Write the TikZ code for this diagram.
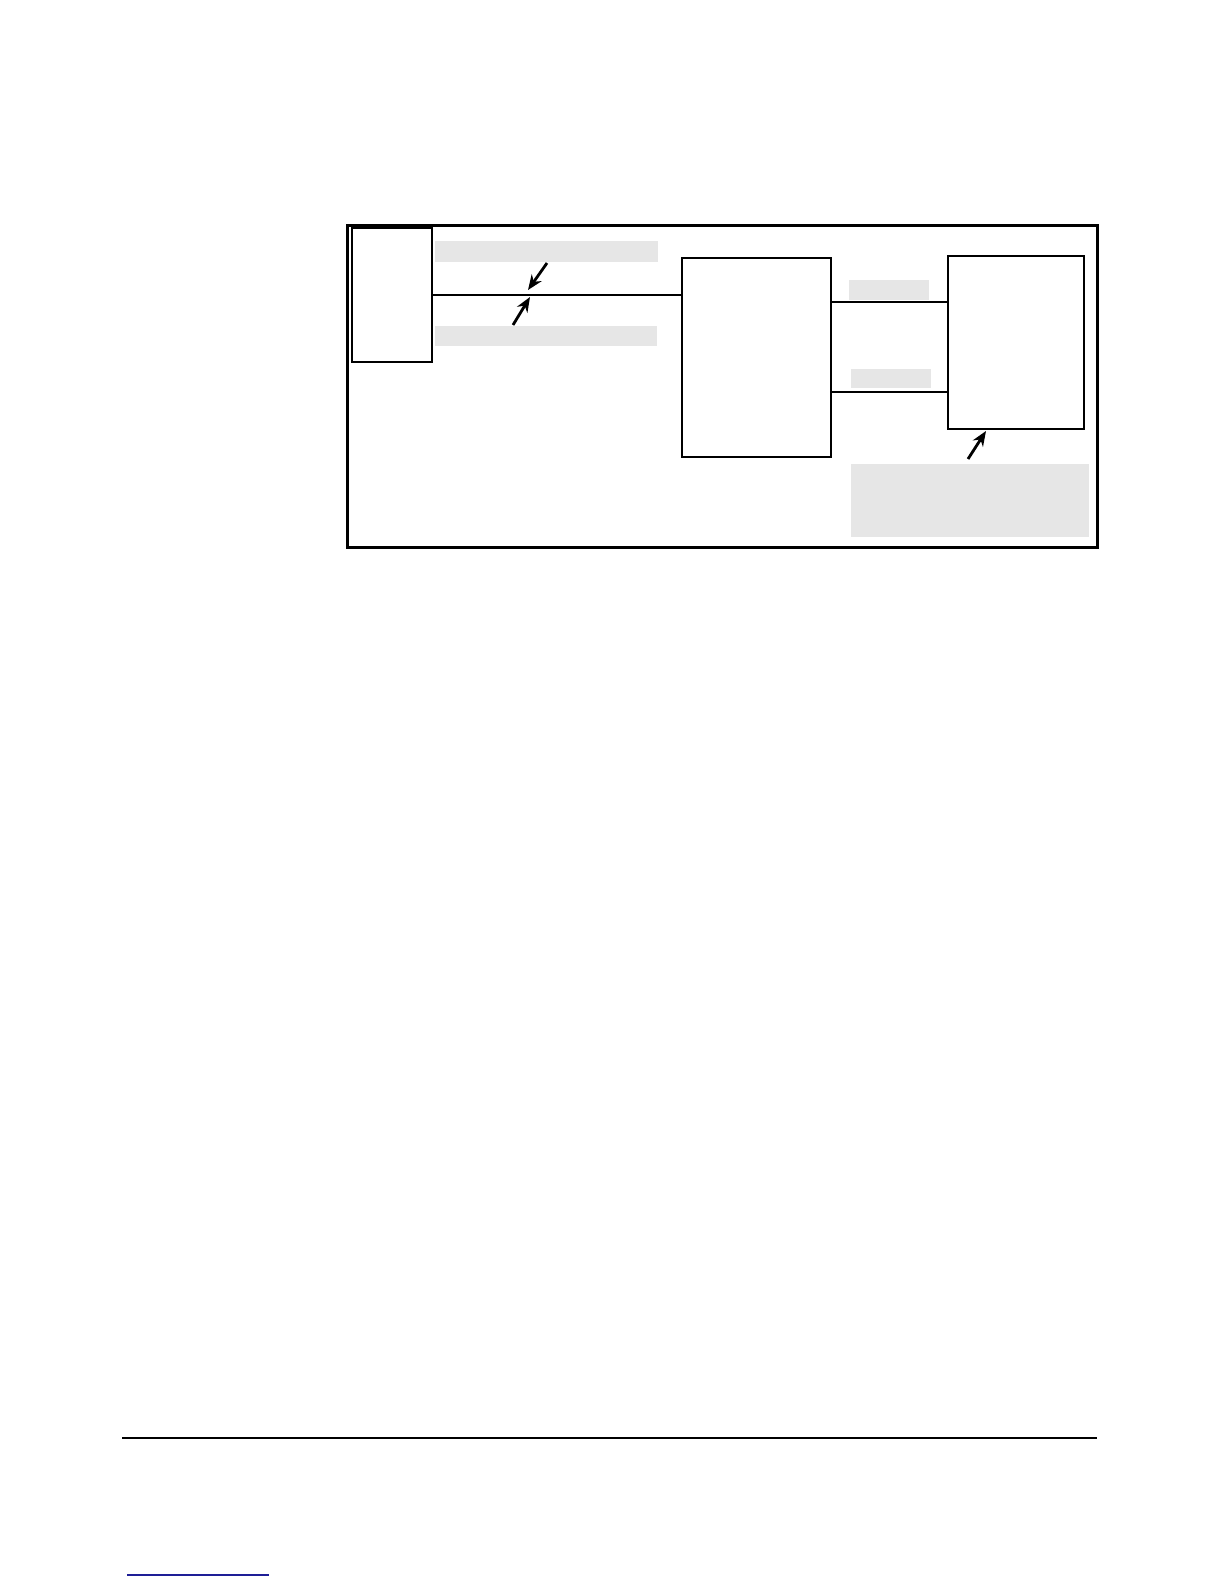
\documentclass[tikz,border=0pt]{standalone}
\usetikzlibrary{arrows.meta}
\definecolor{labelgray}{RGB}{230,230,230}
\definecolor{linkblue}{RGB}{30,30,150}
\begin{document}
\begin{tikzpicture}[x=0.5pt,y=-0.5pt,
  box/.style={draw=black, line width=1pt, inner sep=0pt, outer sep=0pt, anchor=north west},
  thickbox/.style={draw=black, line width=1.3pt, inner sep=0pt, outer sep=0pt, anchor=north west},
  graylabel/.style={fill=labelgray, inner sep=0pt, outer sep=0pt, anchor=north west},
  conn/.style={draw=black, line width=0.8pt},
  pointer/.style={draw=black, line width=1.4pt, -{Stealth[length=7.5pt,width=6pt]}}]
\useasboundingbox (0,0) rectangle (1224,1584);
% outer frame
\node[draw=black, line width=1.7pt, inner sep=0pt, anchor=north west,
  minimum width=375pt, minimum height=161pt] (frame) at (346,224) {};
% left box
\node[thickbox, minimum width=40pt, minimum height=67pt] (lbox) at (352,228) {};
% gray label bars
\node[graylabel, minimum width=111.5pt, minimum height=10.5pt] (g1) at (435,241) {};
\node[graylabel, minimum width=111pt, minimum height=10pt] (g2) at (435,326) {};
% middle box
\node[box, minimum width=74.5pt, minimum height=99.5pt] (mbox) at (682,258) {};
% right box
\node[box, minimum width=68pt, minimum height=86.5pt] (rbox) at (948,256) {};
% small gray labels
\node[graylabel, minimum width=40pt, minimum height=10pt] (g3) at (849,280) {};
\node[graylabel, minimum width=40pt, minimum height=9.5pt] (g4) at (851,369) {};
% big gray label
\node[graylabel, minimum width=119pt, minimum height=36.5pt] (g5) at (851,464) {};
% connectors
\draw[conn] (lbox.east) -- (lbox.east -| mbox.west);
\coordinate (c1) at (0,302);
\coordinate (c2) at (0,392);
\draw[conn] (mbox.east |- c1) -- (rbox.west |- c1);
\draw[conn] (mbox.east |- c2) -- (rbox.west |- c2);
% dimension arrows
\coordinate (a1t) at (547,263);
\coordinate (a1h) at (528,290);
\coordinate (a2t) at (513,325);
\coordinate (a2h) at (530,297);
\draw[pointer] (a1t) -- (a1h);
\draw[pointer] (a2t) -- (a2h);
% pointer to right box
\coordinate (a3t) at (968,459);
\coordinate (a3h) at (986,431);
\draw[pointer] (a3t) -- (a3h);
% footer rule
\coordinate (f1) at (122,1438);
\coordinate (f2) at (1097,1438);
\draw[black, line width=0.8pt] (f1) -- (f2);
% link underline
\coordinate (b1) at (127,1575);
\coordinate (b2) at (269,1575);
\draw[linkblue, line width=0.8pt] (b1) -- (b2);
\end{tikzpicture}
\end{document}
